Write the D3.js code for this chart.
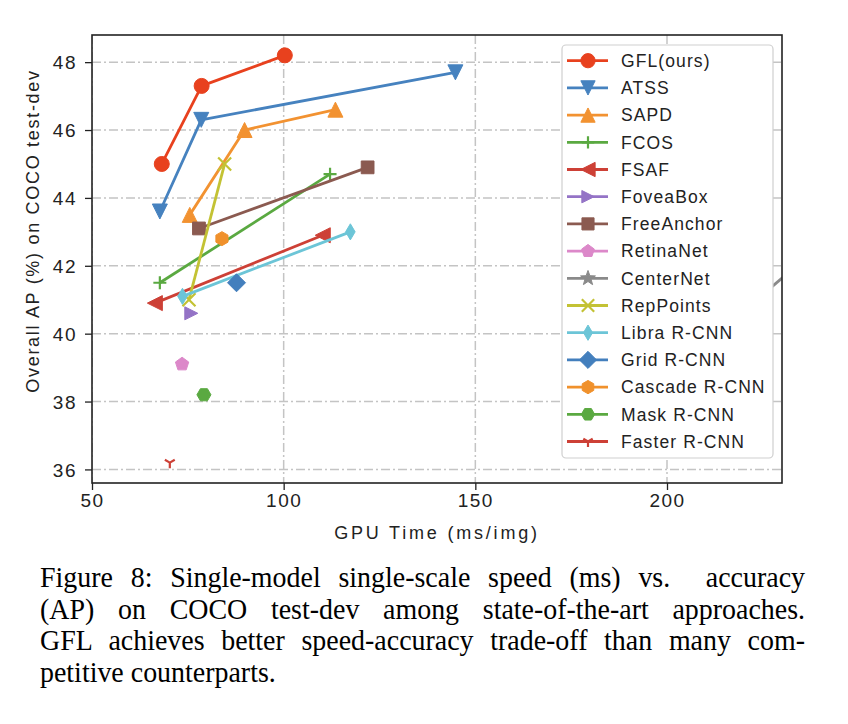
<!DOCTYPE html>
<html>
<head>
<meta charset="utf-8">
<script src="https://cdn.jsdelivr.net/npm/d3@7/dist/d3.min.js"></script>
<style>
  html, body { margin: 0; padding: 0; background: #fff; }
  svg { display: block; }
</style>
</head>
<body>
<svg id="chart" width="848" height="724"></svg>
<script>
// ---------------- data ----------------
const methods = ["GFL(ours)", "ATSS", "SAPD", "FCOS", "FSAF", "FoveaBox", "FreeAnchor",
  "RetinaNet", "CenterNet", "RepPoints", "Libra R-CNN", "Grid R-CNN", "Cascade R-CNN",
  "Mask R-CNN", "Faster R-CNN"];
const gpuTime = [
  [68.2, 78.6, 100.3],
  [67.7, 78.5, 144.8],
  [75.5, 89.8, 113.5],
  [67.7, 112.1],
  [66.4, 110.2],
  [75.9],
  [77.9, 121.9],
  [73.5],
  [225.5, 240.0],
  [75.3, 84.6],
  [73.6, 117.4],
  [87.7],
  [83.9],
  [79.2],
  [70.3]
];
const apValues = [
  [45.0, 47.3, 48.2],
  [43.6, 46.3, 47.7],
  [43.5, 46.0, 46.6],
  [41.5, 44.7],
  [40.9, 42.9],
  [40.6],
  [43.1, 44.9],
  [39.1],
  [41.2, 42.6],
  [41.0, 45.0],
  [41.1, 43.0],
  [41.5],
  [42.8],
  [38.2],
  [36.2]
];
const xTicks = [50, 100, 150, 200];
const yTicks = [36, 38, 40, 42, 44, 46, 48];
const xLabel = "GPU Time (ms/img)";
const yLabel = "Overall AP (%) on COCO test-dev";
const captionLines = [
  "Figure 8: Single-model single-scale speed (ms) vs.\u00a0 accuracy",
  "(AP) on COCO test-dev among state-of-the-art approaches.",
  "GFL achieves better speed-accuracy trade-off than many com-",
  "petitive counterparts."
];

// ---------------- styles ----------------
const colors = ["#e8411e", "#4682bf", "#f29231", "#5aa941", "#cd4036", "#9473c6", "#8b5a50",
  "#dc88c9", "#8a8a8a", "#c3c234", "#6cc5d7", "#437fbd", "#f0912c", "#5aa941", "#cd4036"];
const markers = ["circle", "triDown", "triUp", "plus", "triLeft", "triRight", "square",
  "pentagon", "star", "x", "thinDiamond", "diamond", "hexagon", "hexagon2", "tri1"];

const plot = { left: 92, right: 782, top: 35, bottom: 483 };

const svg = d3.select("#chart");
const x = d3.scaleLinear().domain([50, 230]).range([plot.left, plot.right]);
const y = d3.scaleLinear().domain([35.6, 48.8]).range([plot.bottom, plot.top]);

function poly(pts) { return "M" + pts.map(p => p[0].toFixed(2) + "," + p[1].toFixed(2)).join("L") + "Z"; }
function regular(n, r, rot) {
  const pts = [];
  for (let i = 0; i < n; i++) {
    const a = rot + i * 2 * Math.PI / n;
    pts.push([r * Math.sin(a), -r * Math.cos(a)]);
  }
  return poly(pts);
}
function markerPath(type, s) {
  const h = s / 2;
  switch (type) {
    case "circle": return d3.symbol().type(d3.symbolCircle).size(Math.PI * h * h)();
    case "triUp": return poly([[0, -h], [-h, h], [h, h]]);
    case "triDown": return poly([[0, h], [-h, -h], [h, -h]]);
    case "triLeft": return poly([[-h, 0], [h, -h], [h, h]]);
    case "triRight": return poly([[h, 0], [-h, -h], [-h, h]]);
    case "square": return poly([[-h * 0.85, -h * 0.85], [h * 0.85, -h * 0.85], [h * 0.85, h * 0.85], [-h * 0.85, h * 0.85]]);
    case "pentagon": return regular(5, h, 0);
    case "hexagon": return regular(6, h, 0);
    case "hexagon2": return regular(6, h, Math.PI / 6);
    case "diamond": return poly([[0, -h * 1.2], [h * 1.2, 0], [0, h * 1.2], [-h * 1.2, 0]]);
    case "thinDiamond": return poly([[0, -h * 1.15], [h * 0.68, 0], [0, h * 1.15], [-h * 0.68, 0]]);
    case "star": {
      const pts = [];
      for (let i = 0; i < 10; i++) {
        const r = i % 2 === 0 ? h * 1.1 : h * 0.45;
        const a = i * Math.PI / 5;
        pts.push([r * Math.sin(a), -r * Math.cos(a)]);
      }
      return poly(pts);
    }
    case "plus": return `M${-h},0L${h},0M0,${-h}L0,${h}`;
    case "x": return `M${-h},${-h}L${h},${h}M${-h},${h}L${h},${-h}`;
    case "tri1": {
      const r = h * 0.95;
      return `M0,0L0,${r}M0,0L${-r * 0.866},${-r * 0.5}M0,0L${r * 0.866},${-r * 0.5}`;
    }
  }
}
const strokeOnly = new Set(["plus", "x", "tri1"]);
const markerSize = { circle: 15, triDown: 15, triUp: 15, plus: 13, triLeft: 15, triRight: 13,
  square: 15, pentagon: 14, star: 15, x: 13, thinDiamond: 14, diamond: 15, hexagon: 14, hexagon2: 14, tri1: 12 };

// clip
svg.append("defs").append("clipPath").attr("id", "plotclip")
  .append("rect").attr("x", plot.left).attr("y", plot.top)
  .attr("width", plot.right - plot.left).attr("height", plot.bottom - plot.top);

// grid
const gridG = svg.append("g").attr("clip-path", "url(#plotclip)");
gridG.selectAll(".gx").data(xTicks).join("line")
  .attr("x1", d => x(d)).attr("x2", d => x(d))
  .attr("y1", plot.top).attr("y2", plot.bottom)
  .attr("stroke", "#c4c4c4").attr("stroke-width", 1.5).attr("stroke-dasharray", "9,3,2,3");
gridG.selectAll(".gy").data(yTicks).join("line")
  .attr("y1", d => y(d)).attr("y2", d => y(d))
  .attr("x1", plot.left).attr("x2", plot.right)
  .attr("stroke", "#c4c4c4").attr("stroke-width", 1.5).attr("stroke-dasharray", "9,3,2,3");

// series
const seriesG = svg.append("g").attr("clip-path", "url(#plotclip)");
methods.forEach((m, i) => {
  const pts = gpuTime[i].map((t, j) => [t, apValues[i][j]]);
  const g = seriesG.append("g");
  if (pts.length > 1) {
    g.append("path")
      .attr("d", d3.line().x(d => x(d[0])).y(d => y(d[1]))(pts))
      .attr("fill", "none").attr("stroke", colors[i]).attr("stroke-width", 2.8)
      .attr("stroke-linejoin", "round");
  }
  const type = markers[i];
  g.selectAll("path.mk").data(pts).join("path").attr("class", "mk")
    .attr("transform", d => `translate(${x(d[0])},${y(d[1])})`)
    .attr("d", markerPath(type, markerSize[type]))
    .attr("fill", strokeOnly.has(type) ? "none" : colors[i])
    .attr("stroke", colors[i])
    .attr("stroke-width", strokeOnly.has(type) ? 2.2 : 1);
});

// axes
const axisFont = "'Liberation Sans', Arial, Helvetica, sans-serif";
const xAxis = svg.append("g").attr("transform", `translate(0,${plot.bottom})`)
  .call(d3.axisBottom(x).tickValues(xTicks).tickSize(7).tickPadding(10).tickFormat(d3.format("d")));
const yAxis = svg.append("g").attr("transform", `translate(${plot.left},0)`)
  .call(d3.axisLeft(y).tickValues(yTicks).tickSize(7).tickPadding(8).tickFormat(d3.format("d")));
[xAxis, yAxis].forEach(a => {
  a.select(".domain").remove();
  a.selectAll(".tick line").attr("stroke", "#222").attr("stroke-width", 1.3);
  a.selectAll(".tick text").attr("font-family", axisFont).attr("font-size", 19)
    .attr("fill", "#222").attr("letter-spacing", 1.5);
});
xAxis.selectAll(".tick text").attr("dy", null).attr("y", 24);
yAxis.selectAll(".tick text").attr("dy", "0.36em");

// frame
svg.append("rect").attr("x", plot.left).attr("y", plot.top)
  .attr("width", plot.right - plot.left).attr("height", plot.bottom - plot.top)
  .attr("fill", "none").attr("stroke", "#222").attr("stroke-width", 1.6);

// axis labels
svg.append("text").attr("x", (plot.left + plot.right) / 2).attr("y", 538.5)
  .attr("text-anchor", "middle").attr("font-family", axisFont).attr("font-size", 18)
  .attr("letter-spacing", 2.8).attr("fill", "#222").text(xLabel);
svg.append("text").attr("transform", `translate(39,231) rotate(-90)`)
  .attr("text-anchor", "middle").attr("font-family", axisFont).attr("font-size", 18)
  .attr("letter-spacing", 1.7).attr("fill", "#222").text(yLabel);

// legend
const leg = { x: 562, y: 45, w: 211, h: 413, row: 27.2, first: 60.7 };
const legG = svg.append("g");
legG.append("rect").attr("x", leg.x).attr("y", leg.y).attr("width", leg.w).attr("height", leg.h)
  .attr("rx", 4).attr("fill", "#fff").attr("fill-opacity", 1)
  .attr("stroke", "#cfcfcf").attr("stroke-width", 1.2);
methods.forEach((m, i) => {
  const cy = leg.first + i * leg.row;
  const type = markers[i];
  legG.append("line").attr("x1", 567).attr("x2", 608).attr("y1", cy).attr("y2", cy)
    .attr("stroke", colors[i]).attr("stroke-width", 2.8);
  legG.append("path").attr("transform", `translate(588,${cy})`)
    .attr("d", markerPath(type, markerSize[type] * 0.95))
    .attr("fill", strokeOnly.has(type) ? "none" : colors[i])
    .attr("stroke", colors[i]).attr("stroke-width", strokeOnly.has(type) ? 2.2 : 1);
  legG.append("text").attr("x", 621).attr("y", cy).attr("dy", "0.36em")
    .attr("font-family", axisFont).attr("font-size", 17.5).attr("letter-spacing", 1.1)
    .attr("fill", "#222").text(m);
});

// caption (justified, slightly condensed like the reference)
const capLeft = 40, capRight = 805, capScaleX = 0.947;
const capBase = [587, 618.5, 650, 681.5];
captionLines.forEach((line, i) => {
  const t = svg.append("text")
    .attr("transform", `translate(${capLeft},${capBase[i]}) scale(${capScaleX},1)`)
    .attr("font-family", "'Liberation Serif', 'Times New Roman', serif")
    .attr("font-size", 29.5).attr("fill", "#000").text(line);
  if (i < captionLines.length - 1) {
    const len = t.node().getComputedTextLength();
    const spaces = (line.match(/[ \u00a0]/g) || []).length;
    const target = (capRight - capLeft) / capScaleX;
    if (spaces > 0) t.attr("word-spacing", (target - len) / spaces);
  }
});
</script>
</body>
</html>
